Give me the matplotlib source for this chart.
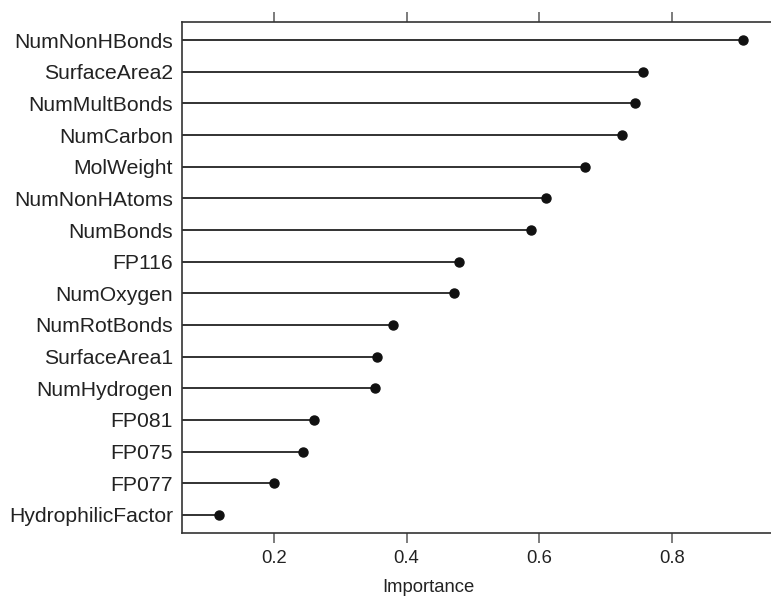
import matplotlib
matplotlib.use('Agg')
import matplotlib.pyplot as plt

features = ['NumNonHBonds', 'SurfaceArea2', 'NumMultBonds', 'NumCarbon', 'MolWeight',
            'NumNonHAtoms', 'NumBonds', 'FP116', 'NumOxygen', 'NumRotBonds',
            'SurfaceArea1', 'NumHydrogen', 'FP081', 'FP075', 'FP077', 'HydrophilicFactor']
importance = [0.907, 0.756, 0.745, 0.725, 0.669, 0.610, 0.588, 0.479, 0.471, 0.380,
              0.356, 0.353, 0.260, 0.244, 0.200, 0.117]
xticks = [0.2, 0.4, 0.6, 0.8]

plt.rcParams['font.family'] = ['Liberation Sans', 'DejaVu Sans']

fig = plt.figure(figsize=(7.71, 5.99), dpi=100)
ax = fig.add_axes([182/771, 66/599, 1 - 182/771, 511/599])

x0 = 0.0612
ypos = list(range(len(features)))
ax.hlines(ypos, x0, importance, color='#222222', lw=1.3)
ax.plot(importance, ypos, 'o', color='#111111', ms=6.5)

ax.set_xlim(x0, 0.9496)
ax.set_ylim(15.57, -0.57)
ax.set_yticks(ypos)
ax.set_yticklabels(features, fontsize=15.2, color='#222222')
ax.set_xticks(xticks)
ax.set_xticklabels([str(t) for t in xticks], fontsize=13.3, color='#222222')
ax.tick_params(axis='x', top=True, direction='out', length=7.5, width=1.2, color='#666666', pad=5)
ax.tick_params(axis='y', length=0, pad=6.5)
ax.spines['right'].set_visible(False)
for s in ['left', 'top', 'bottom']:
    ax.spines[s].set_color('#333333')
    ax.spines[s].set_linewidth(1.2)

ax.set_xlabel('Importance', fontsize=13.3, color='#222222')
ax.xaxis.set_label_coords((428 - 182) / (771 - 182), -0.09)

fig.savefig('out.png', dpi=100)
